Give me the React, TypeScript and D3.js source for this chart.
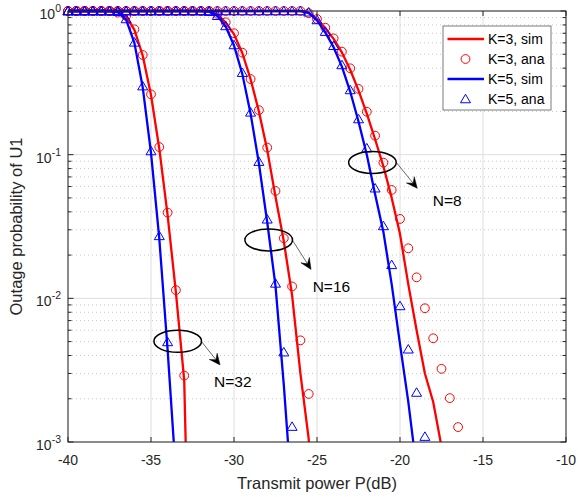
import React from "react";
import * as d3 from "d3";

// Transmit power grid (dB)
const POWER = [
  -40, -39.5, -39, -38.5, -38, -37.5, -37, -36.5, -36, -35.5, -35, -34.5, -34, -33.5, -33, -32.5,
  -32, -31.5, -31, -30.5, -30, -29.5, -29, -28.5, -28, -27.5, -27, -26.5, -26, -25.5, -25, -24.5,
  -24, -23.5, -23, -22.5, -22, -21.5, -21, -20.5, -20, -19.5, -19, -18.5, -18, -17.5, -17, -16.5, -16,
];

// N = 32
const N32_K3_SIM = [1, 1, 1, 1, 1, 1, 0.98, 0.92, 0.74, 0.49, 0.26, 0.11, 0.038, 0.011, 0.0027, 0.00001];
const N32_K3_ANA = [1, 1, 1, 1, 1, 1, 0.975, 0.925, 0.746, 0.494, 0.263, 0.113, 0.0395, 0.0114, 0.0029];
const N32_K5_SIM = [1, 1, 1, 1, 1, 1, 0.985, 0.87, 0.6, 0.295, 0.103, 0.026, 0.0044, 0.0006];
const N32_K5_ANA = [1, 1, 1, 1, 1, 1, 0.99, 0.88, 0.605, 0.3, 0.106, 0.0272, 0.00497];

// N = 16
const N16_K3_SIM = [1, 1, 1, 1, 1, 1, 1, 1, 1, 1, 1, 1, 1, 1, 1, 1, 1,
  0.995, 0.95, 0.83, 0.69, 0.51, 0.335, 0.2, 0.108, 0.051, 0.025, 0.0105, 0.003, 0.00105, 0.0001];
const N16_K3_ANA = [1, 1, 1, 1, 1, 1, 1, 1, 1, 1, 1, 1, 1, 1, 1, 1, 1,
  0.995, 0.955, 0.834, 0.7, 0.513, 0.336, 0.204, 0.112, 0.0559, 0.0262, 0.0121, 0.0051, 0.00216];
const N16_K5_SIM = [1, 1, 1, 1, 1, 1, 1, 1, 1, 1, 1, 1, 1, 1, 1, 1, 1,
  0.99, 0.925, 0.78, 0.575, 0.365, 0.193, 0.087, 0.034, 0.0122, 0.0025, 0.0004];
const N16_K5_ANA = [1, 1, 1, 1, 1, 1, 1, 1, 1, 1, 1, 1, 1, 1, 1, 1, 1,
  0.99, 0.927, 0.787, 0.58, 0.372, 0.197, 0.0894, 0.0355, 0.0127, 0.00422, 0.00128];

// N = 8
const N8_K3_SIM = [1, 1, 1, 1, 1, 1, 1, 1, 1, 1, 1, 1, 1, 1, 1, 1, 1, 1, 1, 1, 1, 1, 1, 1, 1, 1, 1, 1, 1,
  0.965, 0.88, 0.76, 0.64, 0.515, 0.39, 0.28, 0.193, 0.128, 0.083, 0.05, 0.028, 0.0125, 0.006, 0.003, 0.0019, 0.00093, 0.0003];
const N8_K3_ANA = [1, 1, 1, 1, 1, 1, 1, 1, 1, 1, 1, 1, 1, 1, 1, 1, 1, 1, 1, 1, 1, 1, 1, 1, 1, 1, 1, 1, 1,
  0.965, 0.88, 0.765, 0.645, 0.521, 0.399, 0.287, 0.199, 0.1356, 0.088, 0.0568, 0.0357, 0.0223, 0.014, 0.00853, 0.00527, 0.00323, 0.00202, 0.00127];
const N8_K5_SIM = [1, 1, 1, 1, 1, 1, 1, 1, 1, 1, 1, 1, 1, 1, 1, 1, 1, 1, 1, 1, 1, 1, 1, 1, 1, 1, 1, 1, 1,
  0.975, 0.86, 0.71, 0.56, 0.41, 0.275, 0.17, 0.1, 0.053, 0.029, 0.0125, 0.0048, 0.0019, 0.00065];
const N8_K5_ANA = [1, 1, 1, 1, 1, 1, 1, 1, 1, 1, 1, 1, 1, 1, 1, 1, 1, 1, 1, 1, 1, 1, 1, 1, 1, 1, 1, 1, 1,
  0.98, 0.866, 0.718, 0.573, 0.421, 0.282, 0.177, 0.111, 0.0584, 0.0319, 0.0171, 0.00885, 0.00442, 0.00221, 0.00109];

const X_TICKS = [-40, -35, -30, -25, -20, -15, -10];
const Y_TICKS = [1e-3, 1e-2, 1e-1, 1];
const Y_TICK_EXP = ["-3", "-2", "-1", "0"];
const LEGEND_LABELS = ["K=3, sim", "K=3, ana", "K=5, sim", "K=5, ana"];

// annotations: ellipse centre, arrow start/end, label position (data coords)
const ANN_LABELS = ["N=32", "N=16", "N=8"];
const ANN_CENTER = [[-33.39, 0.00502], [-27.91, 0.0255], [-21.66, 0.0882]];
const ANN_ARROW_FROM = [[-31.95, 0.00499], [-26.49, 0.0255], [-20.2, 0.0877]];
const ANN_ARROW_TO = [[-30.84, 0.00344], [-25.36, 0.0159], [-18.96, 0.0583]];
const ANN_TEXT = [[-31.2, 0.00243], [-25.26, 0.0111], [-18.03, 0.0439]];

const RED = "#ff0000";
const BLUE = "#0000ff";
const FONT = "'Liberation Sans', Arial, Helvetica, sans-serif";
const TXT = "#262626";

export default function App() {
  const W = 578, H = 497;
  const L = 68, R = 566, T = 11, B = 442;
  const x = d3.scaleLinear().domain([-40, -10]).range([L, R]);
  const y = d3.scaleLog().domain([1e-3, 1]).range([B, T]);

  const line = d3.line<number>()
    .x((_, i) => x(POWER[i]))
    .y((v) => y(Math.max(v, 1e-7)));

  const simRed = [N32_K3_SIM, N16_K3_SIM, N8_K3_SIM];
  const anaRed = [N32_K3_ANA, N16_K3_ANA, N8_K3_ANA];
  const simBlue = [N32_K5_SIM, N16_K5_SIM, N8_K5_SIM];
  const anaBlue = [N32_K5_ANA, N16_K5_ANA, N8_K5_ANA];

  const minor: number[] = [];
  [1e-3, 1e-2, 1e-1].forEach((d) => {
    for (let k = 2; k <= 9; k++) minor.push(d * k);
  });

  const tri = (cx: number, cy: number, s = 5) =>
    `M${cx},${cy - s * 0.95}L${cx + s},${cy + s * 0.75}L${cx - s},${cy + s * 0.75}Z`;

  const circles = (arr: number[], key: string) =>
    arr.map((v, i) =>
      v >= 1e-3 ? (
        <circle key={key + i} cx={x(POWER[i])} cy={y(v)} r={4.4} fill="none" stroke={RED} strokeWidth={1} />
      ) : null
    );
  const triangles = (arr: number[], key: string) =>
    arr.map((v, i) =>
      v >= 1e-3 ? (
        <path key={key + i} d={tri(x(POWER[i]), y(v))} fill="none" stroke={BLUE} strokeWidth={1} />
      ) : null
    );

  const arrowHead = (x1: number, y1: number, x2: number, y2: number) => {
    const dx = x2 - x1, dy = y2 - y1;
    const len = Math.hypot(dx, dy);
    const ux = dx / len, uy = dy / len;
    const nx = -uy, ny = ux;
    const hl = 11, hw = 5;
    const bx = x2 - hl * ux, by = y2 - hl * uy;
    const mx = x2 - hl * 0.6 * ux, my = y2 - hl * 0.6 * uy;
    return {
      head: `M${x2},${y2}L${bx + hw * nx},${by + hw * ny}L${mx},${my}L${bx - hw * nx},${by - hw * ny}Z`,
      mx, my,
    };
  };

  const legX = 443, legY = 26, legW = 108, legH = 84;

  return (
    <svg width={W} height={H} style={{ position: "absolute", left: 0, top: 0, background: "#fff" }} fontFamily={FONT}>
      <defs>
        <clipPath id="plotClip">
          <rect x={L} y={0} width={R - L} height={B} />
        </clipPath>
      </defs>
      <rect x={L} y={T} width={R - L} height={B - T} fill="#fff" />
      {/* minor grid */}
      {minor.map((v, i) => (
        <line key={"mg" + i} x1={L} x2={R} y1={y(v)} y2={y(v)} stroke="#c8c8c8" strokeWidth={1} strokeDasharray="1,3" />
      ))}
      {/* major grid */}
      {X_TICKS.map((t, i) => (
        <line key={"gx" + i} x1={x(t)} x2={x(t)} y1={T} y2={B} stroke="#dedede" strokeWidth={1} />
      ))}
      {Y_TICKS.map((t, i) => (
        <line key={"gy" + i} x1={L} x2={R} y1={y(t)} y2={y(t)} stroke="#dedede" strokeWidth={1} />
      ))}

      {/* series */}
      <g clipPath="url(#plotClip)">
        {simRed.map((s, i) => (
          <path key={"sr" + i} d={line(s) || ""} fill="none" stroke={RED} strokeWidth={2.3} strokeLinejoin="round" />
        ))}
      </g>
      {anaRed.map((s, i) => <g key={"ar" + i}>{circles(s, "c" + i + "_")}</g>)}
      <g clipPath="url(#plotClip)">
        {simBlue.map((s, i) => (
          <path key={"sb" + i} d={line(s) || ""} fill="none" stroke={BLUE} strokeWidth={2.3} strokeLinejoin="round" />
        ))}
      </g>
      {anaBlue.map((s, i) => <g key={"ab" + i}>{triangles(s, "t" + i + "_")}</g>)}

      {/* annotations */}
      {ANN_LABELS.map((lab, i) => {
        const cx = x(ANN_CENTER[i][0]), cy = y(ANN_CENTER[i][1]);
        const x1 = x(ANN_ARROW_FROM[i][0]), y1 = y(ANN_ARROW_FROM[i][1]);
        const x2 = x(ANN_ARROW_TO[i][0]), y2 = y(ANN_ARROW_TO[i][1]);
        const a = arrowHead(x1, y1, x2, y2);
        return (
          <g key={"ann" + i}>
            <ellipse cx={cx} cy={cy} rx={23.8} ry={11} fill="none" stroke="#000" strokeWidth={1.5} />
            <line x1={x1} y1={y1} x2={a.mx} y2={a.my} stroke="#000" strokeWidth={0.6} />
            <path d={a.head} fill="#000" stroke="#000" strokeWidth={0.5} />
            <text x={x(ANN_TEXT[i][0])} y={y(ANN_TEXT[i][1])} fontSize={15.5} fill="#000">{lab}</text>
          </g>
        );
      })}

      {/* axes frame */}
      <rect x={L} y={T} width={R - L} height={B - T} fill="none" stroke={TXT} strokeWidth={1} />
      {/* x ticks */}
      {X_TICKS.map((t, i) => (
        <g key={"xt" + i}>
          <line x1={x(t)} x2={x(t)} y1={B} y2={B - 5} stroke={TXT} />
          <line x1={x(t)} x2={x(t)} y1={T} y2={T + 5} stroke={TXT} />
          <text x={x(t)} y={B + 23} textAnchor="middle" fontSize={14} fill={TXT}>{String(t)}</text>
        </g>
      ))}
      {/* y ticks */}
      {Y_TICKS.map((t, i) => (
        <g key={"yt" + i}>
          <line x1={L} x2={L + 5.5} y1={y(t)} y2={y(t)} stroke={TXT} />
          <line x1={R} x2={R - 5.5} y1={y(t)} y2={y(t)} stroke={TXT} />
          <text x={L - 7} y={y(t) + 8} textAnchor="end" fontSize={14} fill={TXT}>
            10<tspan dy={-7} fontSize={10.5}>{Y_TICK_EXP[i]}</tspan>
          </text>
        </g>
      ))}
      {minor.map((v, i) => (
        <g key={"ym" + i}>
          <line x1={L} x2={L + 3.5} y1={y(v)} y2={y(v)} stroke={TXT} />
          <line x1={R} x2={R - 3.5} y1={y(v)} y2={y(v)} stroke={TXT} />
        </g>
      ))}

      {/* axis labels */}
      <text x={(L + R) / 2} y={489} textAnchor="middle" fontSize={16.5} fill={TXT}>Transmit power P(dB)</text>
      <text transform={`translate(22,${(T + B) / 2}) rotate(-90)`} textAnchor="middle" fontSize={16.5} fill={TXT}>
        Outage probability of U1
      </text>

      {/* legend */}
      <rect x={legX} y={legY} width={legW} height={legH} fill="#fff" stroke="#7a7a7a" strokeWidth={1} />
      {LEGEND_LABELS.map((lab, i) => {
        const ly = legY + 13 + i * 20;
        const col = i < 2 ? RED : BLUE;
        return (
          <g key={"lg" + i}>
            {i % 2 === 0 ? (
              <line x1={legX + 4.5} x2={legX + 41} y1={ly} y2={ly} stroke={col} strokeWidth={2.3} />
            ) : i === 1 ? (
              <circle cx={legX + 22.5} cy={ly} r={4.4} fill="none" stroke={col} strokeWidth={1} />
            ) : (
              <path d={tri(legX + 22.5, ly)} fill="none" stroke={col} strokeWidth={1} />
            )}
            <text x={legX + 45} y={ly + 5} fontSize={14} fill="#000">{lab}</text>
          </g>
        );
      })}
    </svg>
  );
}
